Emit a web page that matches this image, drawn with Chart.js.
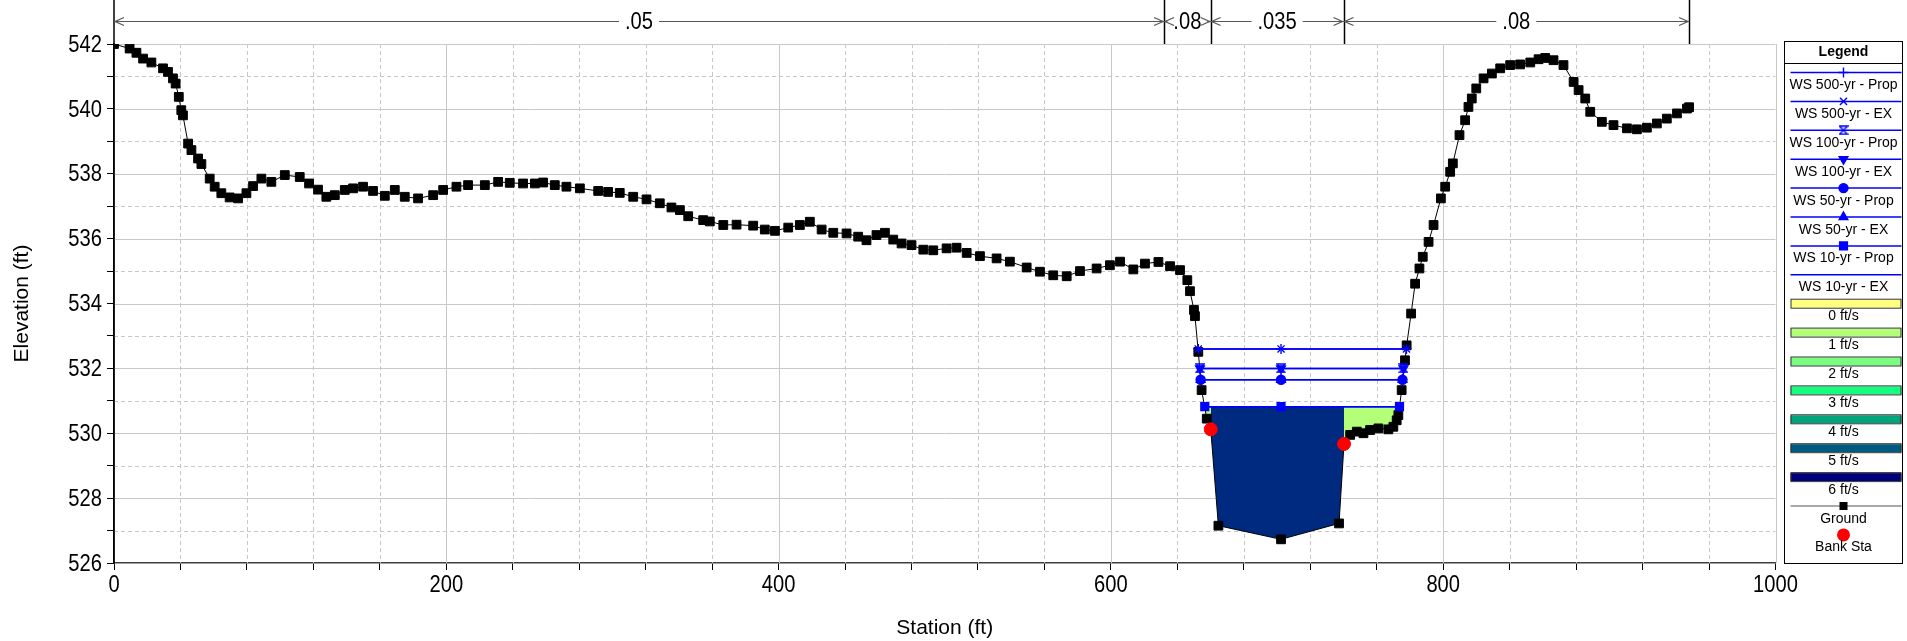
<!DOCTYPE html>
<html>
<head>
<meta charset="utf-8">
<script src="https://cdn.jsdelivr.net/npm/chart.js@4.4.1/dist/chart.umd.min.js"></script>
<style>
  html, body { margin: 0; padding: 0; background: #fff; }
</style>
</head>
<body>
<canvas id="xsChart" width="1907" height="641"></canvas>
<script>
// ground profile (station ft, elevation ft)
const groundSta = [0, 9.4, 13.5, 17.5, 22.5, 29.5, 32.5, 35.5, 37.1, 39, 40.5, 41.5, 44.6, 46.6, 50.6, 52.6, 57.6, 60.6, 64.6, 69.6,
  74.7, 79.7, 83.7, 88.7, 94.7, 102.8, 111.8, 117.4, 122.8, 127.8, 132.9, 138.9, 143.9, 149.9, 155.9, 163, 169, 175, 183, 192.1,
  198.1, 206.1, 213.1, 223.2, 231.2, 238.2, 246.2, 253.3, 258.3, 265.3, 272.3, 280.4, 291.4, 297.4, 304.4, 312.5, 320.5, 328.5, 335.5, 340.6,
  345.6, 354.6, 358.6, 366.7, 374.7, 384.7, 391.7, 397.8, 405.8, 412.8, 418.8, 425.9, 432.9, 440.9, 447.9, 452.9, 458.9, 464, 469, 474,
  480, 487.1, 493.1, 501.1, 507.1, 513.2, 521.2, 531.2, 539.2, 549.3, 557.3, 565.3, 573.4, 581.4, 591.4, 599.4, 605.5, 613.5, 620.5, 628.6,
  635.6, 641.6, 646, 647.6, 650, 650.6, 652.6, 654.6, 657.7, 660.1, 664.7, 702.4, 737.3, 740.3, 744, 748, 752, 756, 761, 767,
  770, 772, 773, 775, 777, 778, 780.7, 783.1, 785.7, 787.7, 791.2, 794.2, 798.6, 801.2, 804.2, 805.8, 809.8, 813.2, 815.2, 817.2,
  819.9, 824.3, 829.3, 834.3, 840.3, 846.3, 852.4, 857.4, 861.4, 866.4, 872.4, 878.5, 881.5, 885.5, 888.5, 895.5, 902.5, 910.6, 916.6, 922.6,
  928.6, 934.6, 940.7, 946.7, 948];
const groundElev = [542.0, 541.86, 541.73, 541.55, 541.43, 541.25, 541.14, 540.94, 540.78, 540.37, 539.96, 539.8, 538.93, 538.73, 538.47, 538.3, 537.85, 537.6, 537.4, 537.27,
  537.24, 537.4, 537.62, 537.85, 537.75, 537.96, 537.9, 537.7, 537.51, 537.29, 537.34, 537.5, 537.55, 537.6, 537.47, 537.32, 537.5, 537.29, 537.24, 537.34,
  537.5, 537.6, 537.65, 537.65, 537.75, 537.72, 537.7, 537.7, 537.73, 537.65, 537.6, 537.55, 537.47, 537.44, 537.41, 537.29, 537.21, 537.09, 536.96, 536.88,
  536.69, 536.57, 536.53, 536.42, 536.43, 536.4, 536.28, 536.24, 536.34, 536.42, 536.52, 536.28, 536.18, 536.16, 536.06, 535.95, 536.11, 536.18, 535.97, 535.85,
  535.8, 535.66, 535.64, 535.7, 535.72, 535.56, 535.46, 535.39, 535.29, 535.11, 534.98, 534.87, 534.84, 535.0, 535.08, 535.18, 535.29, 535.05, 535.23, 535.28,
  535.15, 535.03, 534.72, 534.38, 533.8, 533.61, 532.51, 531.33, 530.45, 530.12, 527.15, 526.73, 527.22, 529.67, 529.95, 530.05, 530.0, 530.1, 530.15, 530.12,
  530.2, 530.4, 530.56, 531.33, 532.25, 532.71, 533.69, 534.61, 535.08, 535.44, 535.9, 536.42, 537.24, 537.6, 538.06, 538.32, 539.19, 539.65, 540.06, 540.32,
  540.63, 540.94, 541.09, 541.25, 541.35, 541.37, 541.43, 541.53, 541.57, 541.5, 541.35, 540.83, 540.58, 540.32, 539.91, 539.6, 539.5, 539.4, 539.37, 539.42,
  539.55, 539.7, 539.86, 540.01, 540.05];

// bank stations
const bankSta = [660.1, 740.3];
const bankElev = [530.12, 529.67];

// water surfaces
const wsNames = ['WS 500-yr - Prop', 'WS 500-yr - EX', 'WS 100-yr - Prop', 'WS 100-yr - EX',
  'WS 50-yr - Prop', 'WS 50-yr - EX', 'WS 10-yr - Prop', 'WS 10-yr - EX'];
const wsElev = [532.6, 532.6, 532.0, 532.0, 531.65, 531.65, 530.82, 530.82];
const wsLeftSta = [652.6, 652.6, 653.6, 653.6, 654.0, 654.0, 656.5, 656.5];
const wsMidSta = [702.4, 702.4, 702.4, 702.4, 702.4, 702.4, 702.4, 702.4];
const wsRightSta = [777.9, 777.9, 776.1, 776.1, 775.5, 775.5, 773.7, 773.7];
const wsMarkers = ['cross', 'crossRot', 'hourglass', 'triangleDown', 'circle', 'triangle', 'rect', 'none'];

// velocity legend
const velLabels = ['0 ft/s', '1 ft/s', '2 ft/s', '3 ft/s', '4 ft/s', '5 ft/s', '6 ft/s'];
const velColors = ['#ffff80', '#b4ff78', '#78ff80', '#14ff80', '#00a47c', '#005a80', '#000078'];
// velocity zones of the 10-yr profile: left overbank, channel, right overbank
const zoneColors = ['#b4ff78', '#002a80', '#b4ff78'];

// Manning's n
const nBreaks = [0, 632, 660, 740, 948];
const nValues = ['.05', '.08', '.035', '.08'];

const xTicks = [0, 200, 400, 600, 800, 1000];
const yTicks = [526, 528, 530, 532, 534, 536, 538, 540, 542];

const SANS = "Arial, 'Liberation Sans', sans-serif";
const BLUE = '#0000ff';

function makeHourglass(size, color) {
    const c = document.createElement('canvas');
    c.width = size; c.height = size;
    const g = c.getContext('2d');
    g.strokeStyle = color;
    g.lineWidth = 1.4;
    g.beginPath();
    g.moveTo(1, 1); g.lineTo(size - 1, 1); g.lineTo(1, size - 1); g.lineTo(size - 1, size - 1); g.closePath();
    g.stroke();
    return c;
}
const hourglass = makeHourglass(10, BLUE);

function markerStyle(m) {
    if (m === 'hourglass') return { pointStyle: hourglass, rotation: 0, radius: 5 };
    if (m === 'triangleDown') return { pointStyle: 'triangle', rotation: 180, radius: 5 };
    if (m === 'rect') return { pointStyle: 'rect', rotation: 0, radius: 5.5 };
    if (m === 'circle') return { pointStyle: 'circle', rotation: 0, radius: 4.5 };
    if (m === 'none') return { pointStyle: false, rotation: 0, radius: 0 };
    return { pointStyle: m, rotation: 0, radius: 5 };
}

// narrow-looking text: regular sans squeezed horizontally
function narrowText(ctx, text, x, y, align, size) {
    ctx.save();
    ctx.font = size + 'px ' + SANS;
    ctx.textAlign = align;
    ctx.textBaseline = 'middle';
    ctx.translate(x, y);
    ctx.scale(0.84, 1);
    ctx.fillText(text, 0, 0);
    ctx.restore();
}

const groundPts = groundSta.map((s, i) => ({ x: s, y: groundElev[i] }));

// polygon under a water surface between two stations, bounded below by the ground
function zonePolygon(x0, x1, top) {
    const under = groundPts.filter(p => p.x >= x0 && p.x <= x1).reverse();
    return [{ x: x0, y: top }, { x: x1, y: top }, ...under];
}

const ws10 = wsElev[6];
const zoneEdges = [wsLeftSta[6], bankSta[0], bankSta[1], wsRightSta[6]];

const datasets = [];

datasets.push({
    label: 'Bank Sta',
    data: bankSta.map((s, i) => ({ x: s, y: bankElev[i] })),
    showLine: false,
    pointStyle: 'circle',
    pointRadius: 6.5,
    backgroundColor: '#ff0000',
    borderColor: '#ff0000',
    order: 0
});

wsNames.forEach((name, i) => {
    const m = markerStyle(wsMarkers[i]);
    datasets.push({
        label: name,
        data: [
            { x: wsLeftSta[i], y: wsElev[i] },
            { x: wsMidSta[i], y: wsElev[i] },
            { x: wsRightSta[i], y: wsElev[i] }
        ],
        showLine: true,
        borderColor: BLUE,
        backgroundColor: BLUE,
        borderWidth: 1.5,
        pointStyle: m.pointStyle,
        pointRotation: m.rotation,
        pointRadius: m.radius,
        pointBorderWidth: 1.4,
        order: 1 + i
    });
});

datasets.push({
    label: 'Ground',
    data: groundPts,
    showLine: true,
    borderColor: '#000000',
    backgroundColor: '#000000',
    borderWidth: 1,
    pointStyle: 'rect',
    pointRadius: 6.2,
    order: 10
});

zoneColors.forEach((col, i) => {
    datasets.push({
        label: 'zone' + i,
        data: zonePolygon(zoneEdges[i], zoneEdges[i + 1], ws10),
        showLine: true,
        borderWidth: 0,
        borderColor: col,
        backgroundColor: col,
        pointRadius: 0,
        fill: 'shape',
        tension: 0,
        order: 20 + i
    });
});

// grid lines: solid on major ticks, dashed on minor
const gridPlugin = {
    id: 'xsGrid',
    beforeDatasetsDraw(chart) {
        const { ctx, chartArea: a, scales: { x, y } } = chart;
        ctx.save();
        ctx.strokeStyle = '#c8c8c8';
        ctx.lineWidth = 1;
        x.ticks.forEach(t => {
            if (t.value === 0) return;
            const px = Math.round(x.getPixelForValue(t.value)) + 0.5;
            ctx.setLineDash(xTicks.includes(t.value) ? [] : [4, 3]);
            ctx.beginPath(); ctx.moveTo(px, a.top); ctx.lineTo(px, a.bottom); ctx.stroke();
        });
        y.ticks.forEach(t => {
            if (t.value === 526) return;
            const py = Math.round(y.getPixelForValue(t.value)) + 0.5;
            ctx.setLineDash(yTicks.includes(t.value) ? [] : [4, 3]);
            ctx.beginPath(); ctx.moveTo(a.left, py); ctx.lineTo(a.right, py); ctx.stroke();
        });
        ctx.restore();
    }
};

// tick labels drawn from the scales
const tickLabelPlugin = {
    id: 'xsTickLabels',
    afterDraw(chart) {
        const { ctx, chartArea: a, scales: { x, y } } = chart;
        ctx.fillStyle = '#000';
        xTicks.forEach(v => narrowText(ctx, String(v), x.getPixelForValue(v), a.bottom + 22, 'center', 24));
        yTicks.forEach(v => narrowText(ctx, String(v), a.left - 12, y.getPixelForValue(v) + 1, 'right', 24));
    }
};

// Manning's n bar above the plot
const nValuePlugin = {
    id: 'nValues',
    afterDraw(chart) {
        const { ctx, chartArea: a, scales: { x } } = chart;
        const yl = Math.round(a.top - 23) + 0.5;
        ctx.save();
        // y axis line runs up through the n-value bar
        ctx.strokeStyle = '#000';
        ctx.lineWidth = 1.5;
        ctx.beginPath(); ctx.moveTo(a.left, 0); ctx.lineTo(a.left, a.bottom); ctx.stroke();
        nBreaks.slice(1).forEach(b => {
            const px = Math.round(x.getPixelForValue(b)) + 0.5;
            ctx.beginPath(); ctx.moveTo(px, 0); ctx.lineTo(px, a.top); ctx.stroke();
        });
        ctx.font = '24px ' + SANS;
        nValues.forEach((n, i) => {
            const x0 = x.getPixelForValue(nBreaks[i]);
            const x1 = x.getPixelForValue(nBreaks[i + 1]);
            const cx = (x0 + x1) / 2;
            const gap = ctx.measureText(n).width * 0.84 / 2 + 6;
            ctx.strokeStyle = '#555';
            ctx.lineWidth = 1.2;
            if (cx - gap > x0) {
                ctx.beginPath(); ctx.moveTo(x0, yl); ctx.lineTo(cx - gap, yl); ctx.stroke();
                ctx.beginPath(); ctx.moveTo(cx + gap, yl); ctx.lineTo(x1, yl); ctx.stroke();
            }
            // open arrow heads pointing to the boundaries
            ctx.beginPath();
            ctx.moveTo(x0 + 10, yl - 4); ctx.lineTo(x0 + 1, yl); ctx.lineTo(x0 + 10, yl + 4);
            ctx.moveTo(x1 - 10, yl - 4); ctx.lineTo(x1 - 1, yl); ctx.lineTo(x1 - 10, yl + 4);
            ctx.stroke();
            ctx.fillStyle = '#000';
            narrowText(ctx, n, cx, yl + 1, 'center', 24);
        });
        ctx.restore();
    }
};

// legend box at the right
const legendPlugin = {
    id: 'xsLegend',
    afterDraw(chart) {
        const { ctx, chartArea: a } = chart;
        const left = Math.round(a.right + 8) + 0.5;
        const right = chart.width - 4.5;
        const top = Math.round(a.top - 3) + 0.5;
        const bottom = Math.round(a.bottom) + 0.5;
        const cx = (left + right) / 2;
        const l0 = left + 6, l1 = right - 1;
        const step = 28.9;
        const textOff = 12.7;
        ctx.save();
        ctx.strokeStyle = '#000';
        ctx.lineWidth = 1;
        ctx.strokeRect(left, top, right - left, bottom - top);
        ctx.beginPath(); ctx.moveTo(left, top + 22); ctx.lineTo(right, top + 22); ctx.stroke();
        ctx.fillStyle = '#000';
        ctx.textAlign = 'center';
        ctx.textBaseline = 'middle';
        ctx.font = 'bold 14px ' + SANS;
        ctx.fillText('Legend', cx, top + 11);
        ctx.font = '14px ' + SANS;

        let yy = top + 31;
        const label = (t) => { ctx.fillStyle = '#000'; ctx.fillText(t, cx, yy + textOff); };

        wsNames.forEach((name, i) => {
            ctx.strokeStyle = BLUE;
            ctx.lineWidth = 1.5;
            ctx.beginPath(); ctx.moveTo(l0, yy); ctx.lineTo(l1, yy); ctx.stroke();
            const m = markerStyle(wsMarkers[i]);
            if (m.pointStyle) {
                ctx.fillStyle = BLUE;
                ctx.strokeStyle = BLUE;
                ctx.lineWidth = 1.4;
                Chart.helpers.drawPoint(ctx, { pointStyle: m.pointStyle, rotation: m.rotation, radius: m.radius, borderWidth: 1.4 }, cx, yy);
            }
            label(name);
            yy += step;
        });

        velLabels.forEach((v, i) => {
            ctx.fillStyle = velColors[i];
            ctx.fillRect(l0, yy - 4, l1 - l0, 8);
            ctx.strokeStyle = '#333';
            ctx.lineWidth = 1;
            ctx.strokeRect(l0 + 0.5, yy - 4.5, l1 - l0 - 1, 9);
            label(v);
            yy += step;
        });

        ctx.strokeStyle = '#555';
        ctx.lineWidth = 1.2;
        ctx.beginPath(); ctx.moveTo(l0, yy); ctx.lineTo(l1, yy); ctx.stroke();
        ctx.fillStyle = '#000';
        ctx.fillRect(cx - 4, yy - 4, 8, 8);
        label('Ground');
        yy += step;

        ctx.fillStyle = '#ff0000';
        ctx.beginPath(); ctx.arc(cx, yy, 6.5, 0, Math.PI * 2); ctx.fill();
        label('Bank Sta');
        ctx.restore();
    }
};

new Chart(document.getElementById('xsChart').getContext('2d'), {
    type: 'scatter',
    data: { datasets },
    plugins: [gridPlugin, tickLabelPlugin, nValuePlugin, legendPlugin],
    options: {
        responsive: false,
        animation: false,
        events: [],
        layout: { padding: { left: 0, right: 131.5, top: 44, bottom: 0 } },
        plugins: {
            legend: { display: false },
            tooltip: { enabled: false }
        },
        scales: {
            x: {
                type: 'linear',
                min: 0,
                max: 1000,
                afterFit: (s) => { s.height = 78; },
                ticks: {
                    stepSize: 40,
                    maxTicksLimit: 100,
                    autoSkip: false,
                    maxRotation: 0,
                    callback: () => ''
                },
                grid: { drawOnChartArea: false, drawTicks: true, tickLength: 7, tickColor: '#000' },
                border: { color: '#404040', width: 1.5 },
                title: {
                    display: true,
                    text: 'Station (ft)',
                    color: '#000',
                    font: { family: SANS, size: 21 },
                    padding: { top: 0, bottom: 0 }
                }
            },
            y: {
                type: 'linear',
                min: 526,
                max: 542,
                afterFit: (s) => { s.width = 114; },
                ticks: {
                    stepSize: 1,
                    maxTicksLimit: 100,
                    autoSkip: false,
                    callback: () => ''
                },
                grid: { drawOnChartArea: false, drawTicks: true, tickLength: 7, tickColor: '#000' },
                border: { color: '#000', width: 1.5 },
                title: {
                    display: true,
                    text: 'Elevation (ft)',
                    color: '#000',
                    font: { family: SANS, size: 21 },
                    padding: { top: 10, bottom: 0 }
                }
            }
        }
    }
});
</script>
</body>
</html>
